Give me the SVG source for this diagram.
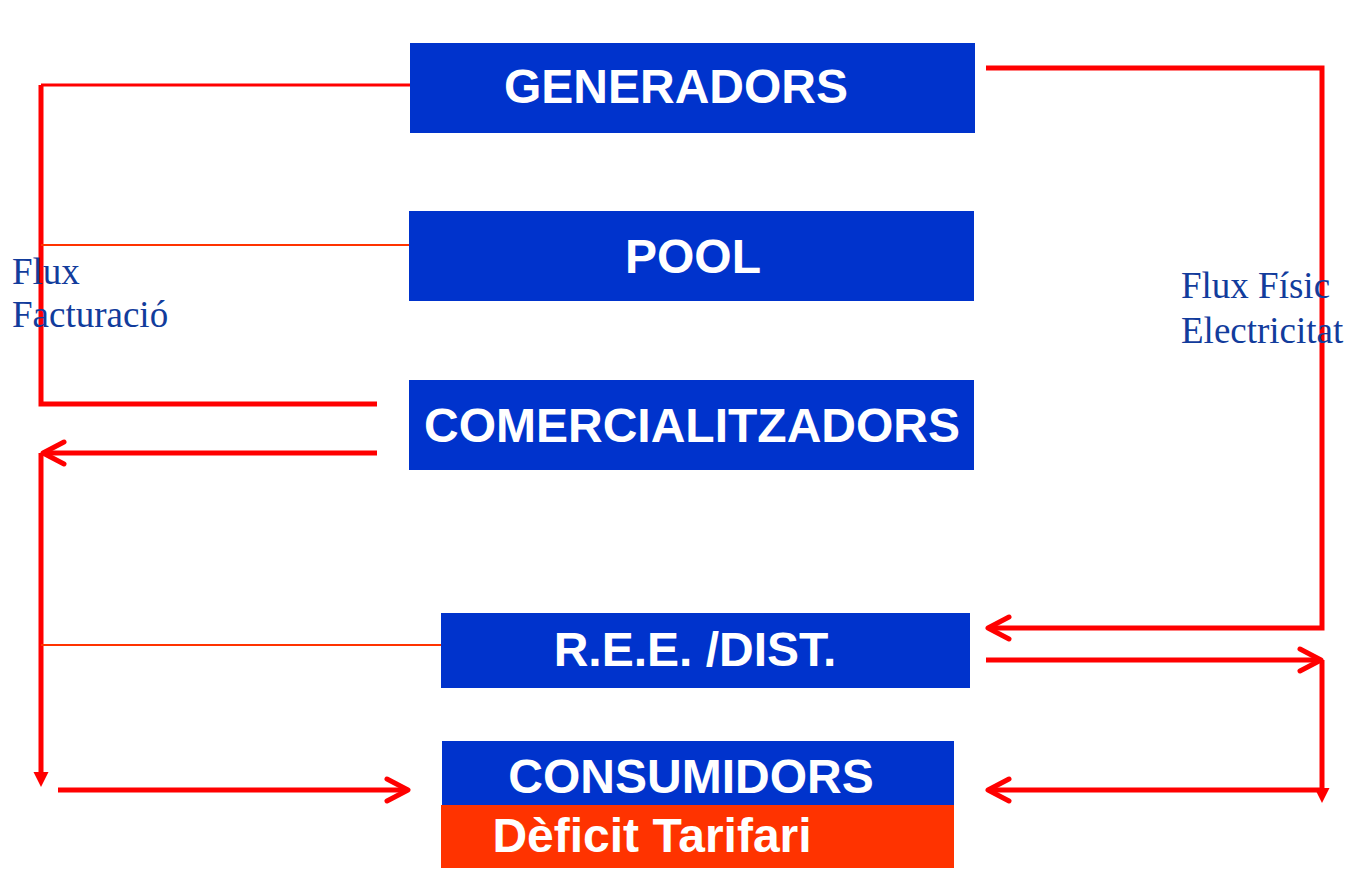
<svg xmlns="http://www.w3.org/2000/svg" width="1354" height="869" viewBox="0 0 1354 869">
<defs>
<style>
.box{fill:#0033cc}
.box2{fill:#ff3300}
.lbl{font-family:"Liberation Sans",Arial,sans-serif;font-weight:bold;font-size:48px;fill:#ffffff;text-anchor:middle}
.note{font-family:"Liberation Serif","Times New Roman",serif;font-size:37px;fill:#123c9c}
.thick{stroke:#ff0000;stroke-width:5;fill:none}
.mid{stroke:#ff0000;stroke-width:3;fill:none}
.thin{stroke:#ff3300;stroke-width:2;fill:none}
</style>
<marker id="open" markerUnits="userSpaceOnUse" markerWidth="30" markerHeight="30" viewBox="-25 -15 30 30" refX="0" refY="0" orient="auto">
<path d="M-21,-11 L0,0 L-21,11" fill="none" stroke="#ff0000" stroke-width="5" stroke-linecap="round" stroke-linejoin="round"/>
</marker>
<marker id="tri" markerUnits="userSpaceOnUse" markerWidth="20" markerHeight="20" viewBox="0 -10 20 20" refX="0" refY="0" orient="auto">
<path d="M0,-7.5 L15,0 L0,7.5 Z" fill="#ff0000"/>
</marker>
</defs>
<rect width="1354" height="869" fill="#ffffff"/>
<g id="connectors">
<path class="mid" d="M410,85 H41"/>
<path class="thick" d="M41,85 V404 H377"/>
<path class="thin" d="M41,245 H409"/>
<path class="thick" d="M377,453 H43" marker-end="url(#open)"/>
<path class="thick" d="M41,453 V772" marker-end="url(#tri)"/>
<path class="thin" d="M41,645 H441"/>
<path class="thick" d="M58,790 H408" marker-end="url(#open)"/>
<path class="thick" d="M986,68 H1322 V628 H988" marker-end="url(#open)"/>
<path class="thick" d="M986,660 H1321" marker-end="url(#open)"/>
<path class="thick" d="M1322,660 V788" marker-end="url(#tri)"/>
<path class="thick" d="M1322,790 H988" marker-end="url(#open)"/>
</g>
<g id="generadors"><rect class="box" x="410" y="43" width="565" height="90"/><text class="lbl" x="676" y="103">GENERADORS</text></g>
<g id="pool"><rect class="box" x="409" y="211" width="565" height="90"/><text class="lbl" x="693" y="273">POOL</text></g>
<g id="comercialitzadors"><rect class="box" x="409" y="380" width="565" height="90"/><text class="lbl" x="692" y="442">COMERCIALITZADORS</text></g>
<g id="ree"><rect class="box" x="441" y="613" width="529" height="75"/><text class="lbl" x="695" y="666">R.E.E. /DIST.</text></g>
<g id="consumidors"><rect class="box" x="442" y="741" width="512" height="64"/><text class="lbl" x="691" y="793">CONSUMIDORS</text></g>
<g id="deficit"><rect class="box2" x="441" y="805" width="513" height="63"/><text class="lbl" x="652" y="852">Dèficit Tarifari</text></g>
<g id="flux-facturacio"><text class="note" x="12" y="284">Flux</text><text class="note" x="12" y="327">Facturació</text></g>
<g id="flux-fisic"><text class="note" x="1181" y="298">Flux Físic</text><text class="note" x="1181" y="343">Electricitat</text></g>
</svg>
